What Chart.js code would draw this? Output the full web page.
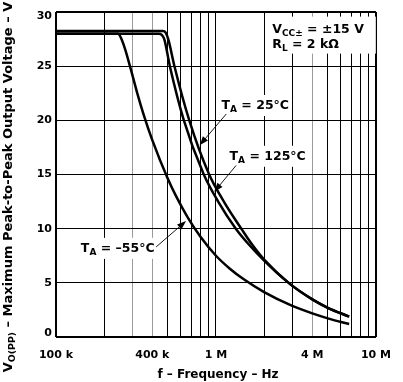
<!DOCTYPE html>
<html>
<head>
<meta charset="utf-8">
<style>html,body{margin:0;padding:0;background:#fff}canvas{display:block}</style>
<script src="https://cdn.jsdelivr.net/npm/chart.js@4.4.0/dist/chart.umd.min.js"></script>
</head>
<body>
<canvas id="c" width="403" height="382"></canvas>
<script>
// ---- data ----
const freqM55 = [1e5, 2.45e5, 2.55e5, 2.7e5, 2.9e5, 3.2e5, 3.55e5, 4e5, 5e5, 5.64e5, 6.64e5, 8e5, 1e6, 1.216e6, 1.5e6, 2e6, 3e6, 4e6, 5e6, 6.8e6];
const voltM55 = [28.0, 28.0, 27.6, 26.6, 25.0, 22.66, 20.42, 18.18, 14.6, 12.98, 11.07, 9.25, 7.5, 6.33, 5.3, 4.15, 2.87, 2.175, 1.72, 1.2];
const freq125 = [1e5, 4.4e5, 4.58e5, 4.75e5, 5.15e5, 6.27e5, 8.34e5, 1.03e6, 1.334e6, 1.6e6, 2e6, 2.87e6, 4e6, 5e6, 6.8e6];
const volt125 = [28.0, 28.0, 27.9, 27.5, 25.0, 20.1, 15.1, 12.52, 9.97, 8.56, 7.05, 4.95, 3.475, 2.7, 1.88];
const freq25 = [1e5, 4.65e5, 4.85e5, 5.05e5, 5.5e5, 6.81e5, 9.01e5, 1.12e6, 1.464e6, 1.7e6, 2e6, 2.87e6, 4e6, 5e6, 6.8e6];
const volt25 = [28.25, 28.25, 28.1, 27.4, 25.0, 20.0, 15.1, 12.5, 9.84, 8.44, 7.15, 4.95, 3.475, 2.7, 1.88];

const xGrid = [1e5, 2e5, 3e5, 4e5, 5e5, 6e5, 7e5, 8e5, 9e5, 1e6, 2e6, 3e6, 4e6, 5e6, 6e6, 7e6, 8e6, 9e6, 1e7];
const xGrayGrid = [3e5, 4e5, 4e6];
const xTickLabels = {100000: '100 k', 400000: '400 k', 1000000: '1 M', 4000000: '4 M', 10000000: '10 M'};
const yTicks = [0, 5, 10, 15, 20, 25, 30];

const toPts = (fs, vs) => fs.map((f, i) => ({x: f, y: vs[i]}));

// ---- annotations (anchored in data coordinates) ----
const notes = [
  {at: [2.25e6, 28.1], lines: [[['V'], ['CC±', 1], [' = ±15 V']], [['R'], ['L', 1], [' = 2 kΩ']]], box: [4, 16, 12, 6]},
  {at: [1.083e6, 21.05], lines: [[['T'], ['A', 1], [' = 25°C']]], box: [3, 14, 3, 7], arrow: [[1.16e6, 20.59], [7.9e5, 17.7]]},
  {at: [1.216e6, 16.36], lines: [[['T'], ['A', 1], [' = 125°C']]], box: [3, 14, 3, 7], arrow: [[1.335e6, 15.83], [9.75e5, 13.4]]},
  {at: [1.43e5, 7.86], lines: [[['T'], ['A', 1], [' = –55°C']]], box: [3, 14, 3, 7], arrow: [[4.23e5, 8.32], [6.5e5, 10.7]]}
];

const FAM = '"DejaVu Sans"';
const fnt = (s) => `bold ${s}px ${FAM}`;

function richWidth(ctx, segs, size) {
  let w = 0;
  for (const s of segs) { ctx.font = fnt(s[1] ? size * 0.72 : size); w += ctx.measureText(s[0]).width; }
  return w;
}
function drawRich(ctx, segs, x, y, size) {
  ctx.textBaseline = 'alphabetic';
  ctx.textAlign = 'left';
  for (const s of segs) {
    const sz = s[1] ? size * 0.72 : size;
    ctx.font = fnt(sz);
    ctx.fillText(s[0], x, y + (s[1] ? size * 0.26 : 0));
    x += ctx.measureText(s[0]).width;
  }
}

const notePlugin = {
  id: 'notes',
  beforeDatasetsDraw(chart) {
    const ctx = chart.ctx, xs = chart.scales.x, ys = chart.scales.y;
    ctx.save();
    const size = 12.5, gap = 15;
    for (const n of notes) {
      const x = xs.getPixelForValue(n.at[0]), y = ys.getPixelForValue(n.at[1]);
      let w = 0;
      n.lines.forEach(l => { w = Math.max(w, richWidth(ctx, l, size)); });
      const b = n.box;
      ctx.fillStyle = '#fff';
      ctx.fillRect(x - b[0], y - b[1], w + b[0] + b[2], (n.lines.length - 1) * gap + b[1] + b[3]);
      ctx.fillStyle = '#000';
      n.lines.forEach((l, i) => drawRich(ctx, l, x, y + i * gap, size));
    }
    ctx.restore();
  },
  afterDatasetsDraw(chart) {
    const ctx = chart.ctx, xs = chart.scales.x, ys = chart.scales.y;
    ctx.save();
    ctx.strokeStyle = '#000'; ctx.fillStyle = '#000'; ctx.lineWidth = 0.9;
    for (const n of notes) {
      if (!n.arrow) continue;
      const x1 = xs.getPixelForValue(n.arrow[0][0]), y1 = ys.getPixelForValue(n.arrow[0][1]);
      const x2 = xs.getPixelForValue(n.arrow[1][0]), y2 = ys.getPixelForValue(n.arrow[1][1]);
      const a = Math.atan2(y2 - y1, x2 - x1), L = 9, H = 3.3;
      ctx.beginPath(); ctx.moveTo(x1, y1); ctx.lineTo(x2 - L * Math.cos(a) * 0.5, y2 - L * Math.sin(a) * 0.5); ctx.stroke();
      ctx.beginPath();
      ctx.moveTo(x2, y2);
      ctx.lineTo(x2 - L * Math.cos(a) + H * Math.sin(a), y2 - L * Math.sin(a) - H * Math.cos(a));
      ctx.lineTo(x2 - L * Math.cos(a) - H * Math.sin(a), y2 - L * Math.sin(a) + H * Math.cos(a));
      ctx.closePath(); ctx.fill();
    }
    ctx.restore();
  },
  afterDraw(chart) {
    const ctx = chart.ctx;
    ctx.save();
    ctx.fillStyle = '#000';
    const ySegs = [['V'], ['O(PP)', 1], [' – Maximum Peak-to-Peak Output Voltage – V']];
    const ysz = 13;
    const yw = richWidth(ctx, ySegs, ysz);
    ctx.translate(11.5, 187);
    ctx.rotate(-Math.PI / 2);
    drawRich(ctx, ySegs, -yw / 2, 0, ysz);
    ctx.restore();
    ctx.save();
    ctx.fillStyle = '#000';
    ctx.font = fnt(12);
    ctx.textAlign = 'center';
    ctx.textBaseline = 'alphabetic';
    ctx.fillText('f – Frequency – Hz', 218, 378);
    ctx.restore();
  }
};

const edgeW = (v, a, b) => (v === a || v === b) ? 2 : 1;

new Chart(document.getElementById('c'), {
  type: 'line',
  data: {
    datasets: [
      {label: 'TA = 25°C', data: toPts(freq25, volt25)},
      {label: 'TA = 125°C', data: toPts(freq125, volt125)},
      {label: 'TA = –55°C', data: toPts(freqM55, voltM55)}
    ].map(d => Object.assign(d, {borderColor: '#000', borderWidth: 2.5, pointRadius: 0, cubicInterpolationMode: 'monotone', fill: false}))
  },
  options: {
    responsive: false,
    devicePixelRatio: 1,
    animation: false,
    layout: {padding: {top: 11, right: 17, left: 0, bottom: 0}},
    plugins: {legend: {display: false}, tooltip: {enabled: false}},
    scales: {
      x: {
        type: 'logarithmic',
        min: 1e5, max: 1e7,
        afterBuildTicks: (s) => { s.ticks = xGrid.map(v => ({value: v})); },
        afterFit: (s) => { s.height = 45; },
        ticks: {
          autoSkip: false, maxRotation: 0, minRotation: 0, padding: 12, color: '#000',
          font: {family: 'DejaVu Sans', weight: 'bold', size: 11},
          callback: (v) => xTickLabels[v] || ''
        },
        grid: {
          drawTicks: false,
          color: (c) => (c.tick && xGrayGrid.includes(c.tick.value)) ? '#9a9a9a' : '#000',
          lineWidth: (c) => c.tick ? edgeW(c.tick.value, 1e5, 1e7) : 1
        },
        border: {display: false}
      },
      y: {
        min: 0, max: 30,
        afterBuildTicks: (s) => { s.ticks = yTicks.map(v => ({value: v})); },
        afterFit: (s) => { s.width = 56; },
        ticks: {
          padding: 4, color: '#000',
          font: {family: 'DejaVu Sans', weight: 'bold', size: 11, lineHeight: 0.73},
          callback: (v) => v === 30 ? ['', '30'] : (v === 0 ? ['0', ''] : String(v))
        },
        grid: {
          drawTicks: false,
          color: '#000',
          lineWidth: (c) => c.tick ? edgeW(c.tick.value, 0, 30) : 1
        },
        border: {display: false}
      }
    }
  },
  plugins: [notePlugin]
});
</script>
</body>
</html>
